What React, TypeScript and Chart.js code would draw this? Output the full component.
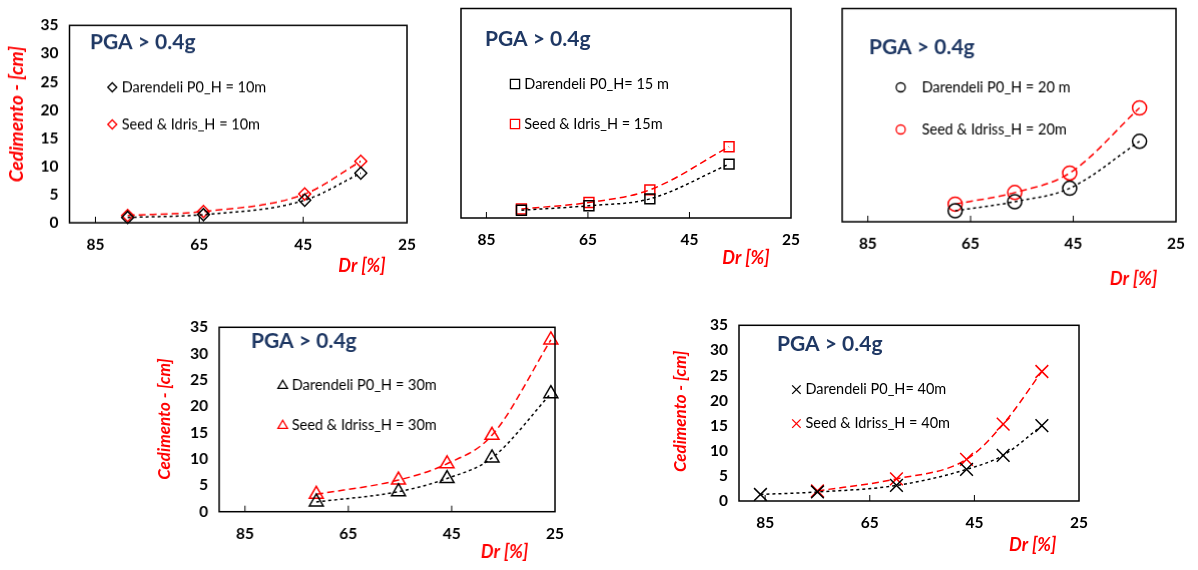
import React, { useEffect, useRef } from "react";
import { Chart, registerables } from "chart.js";
import { drawPoint } from "chart.js/helpers";

Chart.register(...registerables);

// ---------- DATA ----------
const xTickValues = [85, 65, 45, 25];
const yMin = 0;
const yMax = 35;
const xMin = 25;
const xMax = 90;

// H = 10 m
const dr10 = [78.8, 64.2, 44.7, 33.9];
const darendeli10 = [0.95, 1.45, 4.0, 8.8];
const seed10 = [1.3, 2.0, 5.1, 10.9];

// H = 15 m
const dr15 = [78.1, 64.8, 52.8, 37.2];
const darendeli15 = [1.3, 2.05, 3.2, 9.0];
const seed15 = [1.5, 2.6, 4.7, 11.9];

// H = 20 m
const dr20 = [68.0, 56.4, 45.7, 32.1];
const darendeli20 = [1.8, 3.3, 5.5, 13.2];
const seed20 = [2.9, 4.8, 8.0, 18.7];

// H = 30 m
const dr30 = [71.2, 55.3, 45.9, 37.2, 25.8];
const darendeli30 = [1.85, 3.8, 6.3, 10.2, 22.4];
const seed30 = [3.3, 6.0, 9.1, 14.5, 32.6];

// H = 40 m
const dr40Darendeli = [85.9, 75.0, 59.9, 46.5, 39.5, 32.1];
const darendeli40 = [1.3, 1.8, 3.1, 6.3, 9.1, 15.0];
const dr40Seed = [75.0, 59.9, 46.5, 39.5, 32.1];
const seed40 = [2.0, 4.4, 8.3, 15.3, 25.8];

const pgaText = "PGA > 0.4g";
const xTitleText = "Dr [%]";
const yTitleText = "Cedimento - [cm]";

// ---------- STYLE / LAYOUT ----------
const FONT = "Lato, 'Open Sans', sans-serif";
const RED = "#FF0000";
const NAVY = "#1F3864";

type PanelCfg = {
  drD: number[];
  yD: number[];
  drS: number[];
  yS: number[];
  labelD: string;
  labelS: string;
  style: any;
  radius: number;
  legendRadius: number;
  area: { l: number; t: number; r: number; b: number };
  showY: boolean;
  pga: [number, number];
  legend: [number, number, number, number];
  xTitle: [number, number];
  yTitle: [number, number, number] | null;
};

const panels: PanelCfg[] = [
  {
    drD: dr10, yD: darendeli10, drS: dr10, yS: seed10,
    labelD: "Darendeli P0_H = 10m", labelS: "Seed & Idris_H = 10m",
    style: "rectRot", radius: 6, legendRadius: 4.5,
    area: { l: 69.5, t: 13.3, r: 415, b: 222.7 },
    showY: true,
    pga: [90, 43], legend: [112.3, 87.3, 124.3, 121.7],
    xTitle: [362, 265], yTitle: [16.7, 114, 19],
  },
  {
    drD: dr15, yD: darendeli15, drS: dr15, yS: seed15,
    labelD: "Darendeli P0_H= 15 m", labelS: "Seed & Idris_H = 15m",
    style: "rect", radius: 7, legendRadius: 6.5,
    area: { l: 461, t: 8.3, r: 799, b: 218.3 },
    showY: false,
    pga: [485, 40], legend: [515, 84.3, 124.3, 524.3],
    xTitle: [746, 258.3], yTitle: null,
  },
  {
    drD: dr20, yD: darendeli20, drS: dr20, yS: seed20,
    labelD: "Darendeli P0_H = 20 m", labelS: "Seed & Idriss_H = 20m",
    style: "circle", radius: 7, legendRadius: 4.5,
    area: { l: 842.3, t: 6, r: 1186.7, b: 221.7 },
    showY: false,
    pga: [869, 47.5], legend: [900.7, 87, 129, 921.7],
    xTitle: [1133, 278.3], yTitle: null,
  },
  {
    drD: dr30, yD: darendeli30, drS: dr30, yS: seed30,
    labelD: "Darendeli P0_H = 30m", labelS: "Seed & Idriss_H = 30m",
    style: "triangle", radius: 8, legendRadius: 5.5,
    area: { l: 219.3, t: 315, r: 563.3, b: 511.7 },
    showY: true,
    pga: [251, 341.5], legend: [282.7, 385.7, 425.7, 291.7],
    xTitle: [504, 552], yTitle: [165, 419, 17],
  },
  {
    drD: dr40Darendeli, yD: darendeli40, drS: dr40Seed, yS: seed40,
    labelD: "Darendeli P0_H= 40m", labelS: "Seed & Idriss_H = 40m",
    style: "crossRot", radius: 9, legendRadius: 6,
    area: { l: 739.3, t: 312.7, r: 1087.3, b: 501 },
    showY: true,
    pga: [777.3, 344], legend: [796.7, 389.3, 423.3, 805.7],
    xTitle: [1033, 545], yTitle: [680.7, 411, 17],
  },
];

const W = 1198;
const H = 570;

function Panel({ cfg }: { cfg: PanelCfg }) {
  const ref = useRef<HTMLCanvasElement | null>(null);
  const cl = Math.max(0, cfg.area.l - 75);
  const ct = Math.max(0, cfg.area.t - 8);
  const cr = Math.min(W, cfg.area.r + 14);
  const cb = Math.min(H, cfg.area.b + 72);
  const cw = cr - cl;
  const ch = cb - ct;

  useEffect(() => {
    if (!ref.current) return;
    const a = cfg.area;
    const decor = {
      id: "decor",
      afterDraw(chart: any) {
        const ctx = chart.ctx as CanvasRenderingContext2D;
        const ca = chart.chartArea;
        ctx.save();
        // frame
        ctx.strokeStyle = "#000";
        ctx.lineWidth = 1.5;
        ctx.setLineDash([]);
        ctx.strokeRect(ca.left, ca.top, ca.right - ca.left, ca.bottom - ca.top);
        // inner tick marks on the x axis
        ctx.lineWidth = 1;
        for (const v of xTickValues) {
          const px = chart.scales.x.getPixelForValue(v);
          if (px <= ca.left + 2 || px >= ca.right - 2) continue;
          ctx.beginPath();
          ctx.moveTo(px, ca.bottom);
          ctx.lineTo(px, ca.bottom - 6);
          ctx.stroke();
        }
        // PGA title
        ctx.fillStyle = NAVY;
        ctx.font = `bold 21px ${FONT}`;
        ctx.textBaseline = "middle";
        ctx.textAlign = "left";
        ctx.fillText(pgaText, cfg.pga[0] - cl, cfg.pga[1] - ct);
        // legend
        const [mx, y1, y2, tx] = cfg.legend;
        const entries: [string, string, number][] = [
          ["#000", cfg.labelD, y1],
          [RED, cfg.labelS, y2],
        ];
        for (const [col, label, yy] of entries) {
          ctx.strokeStyle = col;
          ctx.fillStyle = "rgba(0,0,0,0)";
          ctx.lineWidth = 1.3;
          drawPoint(ctx, { pointStyle: cfg.style, radius: cfg.legendRadius, borderWidth: 1.3, rotation: 0 } as any, mx - cl, yy - ct);
          ctx.fillStyle = "#000";
          ctx.font = `14.5px ${FONT}`;
          ctx.textAlign = "left";
          ctx.textBaseline = "middle";
          ctx.fillText(label, tx - cl, yy - ct);
        }
        // axis titles
        ctx.fillStyle = RED;
        ctx.font = `italic bold 18px ${FONT}`;
        ctx.textAlign = "center";
        ctx.fillText(xTitleText, cfg.xTitle[0] - cl, cfg.xTitle[1] - ct);
        if (cfg.yTitle) {
          ctx.save();
          ctx.translate(cfg.yTitle[0] - cl, cfg.yTitle[1] - ct);
          ctx.rotate(-Math.PI / 2);
          ctx.font = `italic bold ${cfg.yTitle[2]}px ${FONT}`;
          ctx.textAlign = "center";
          ctx.textBaseline = "middle";
          ctx.fillText(yTitleText, 0, 0);
          ctx.restore();
        }
        ctx.restore();
      },
    };

    const mk = (xs: number[], ys: number[], color: string, dash: number[], label: string) => ({
      label,
      data: xs.map((x, i) => ({ x, y: ys[i] })),
      showLine: true,
      borderColor: color,
      borderWidth: 1.5,
      borderDash: dash,
      cubicInterpolationMode: "monotone",
      pointStyle: cfg.style,
      pointRadius: cfg.radius,
      pointHoverRadius: cfg.radius,
      pointBorderColor: color,
      pointBackgroundColor: "rgba(0,0,0,0)",
      pointBorderWidth: 1.5,
      clip: false,
    });

    const chart = new Chart(ref.current, {
      type: "scatter",
      data: {
        datasets: [
          mk(cfg.drD, cfg.yD, "#000", [3, 3], cfg.labelD),
          mk(cfg.drS, cfg.yS, RED, [7, 4], cfg.labelS),
        ] as any,
      },
      options: {
        animation: false,
        responsive: false,
        devicePixelRatio: 1,
        layout: {
          padding: { left: 0, top: a.t - ct, right: cr - a.r, bottom: 0 },
        },
        plugins: {
          legend: { display: false },
          tooltip: { enabled: false },
        },
        scales: {
          x: {
            type: "linear",
            reverse: true,
            min: xMin,
            max: xMax,
            grid: { display: false, drawTicks: false },
            border: { display: false },
            afterBuildTicks: (s: any) => {
              s.ticks = xTickValues.map((v) => ({ value: v }));
            },
            afterFit: (s: any) => {
              s.height = cb - a.b;
            },
            ticks: {
              autoSkip: false,
              maxRotation: 0,
              padding: 13,
              color: "#000",
              font: { family: FONT, size: 15.5, weight: "bold" },
            },
          },
          y: {
            type: "linear",
            min: yMin,
            max: yMax,
            grid: { display: false, drawTicks: false },
            border: { display: false },
            afterFit: (s: any) => {
              s.width = a.l - cl;
            },
            ticks: {
              display: cfg.showY,
              stepSize: 5,
              padding: 11,
              color: "#000",
              font: { family: FONT, size: 15.5, weight: "bold" },
            },
          },
        },
      } as any,
      plugins: [decor as any],
    });
    return () => chart.destroy();
  }, []);

  return (
    <canvas
      ref={ref}
      width={cw}
      height={ch}
      style={{ position: "absolute", left: cl, top: ct, width: cw, height: ch }}
    />
  );
}

export default function App() {
  return (
    <div
      style={{
        position: "absolute",
        left: 0,
        top: 0,
        width: W,
        height: H,
        overflow: "hidden",
        background: "#fff",
      }}
    >
      {panels.map((p, i) => (
        <Panel key={i} cfg={p} />
      ))}
    </div>
  );
}
